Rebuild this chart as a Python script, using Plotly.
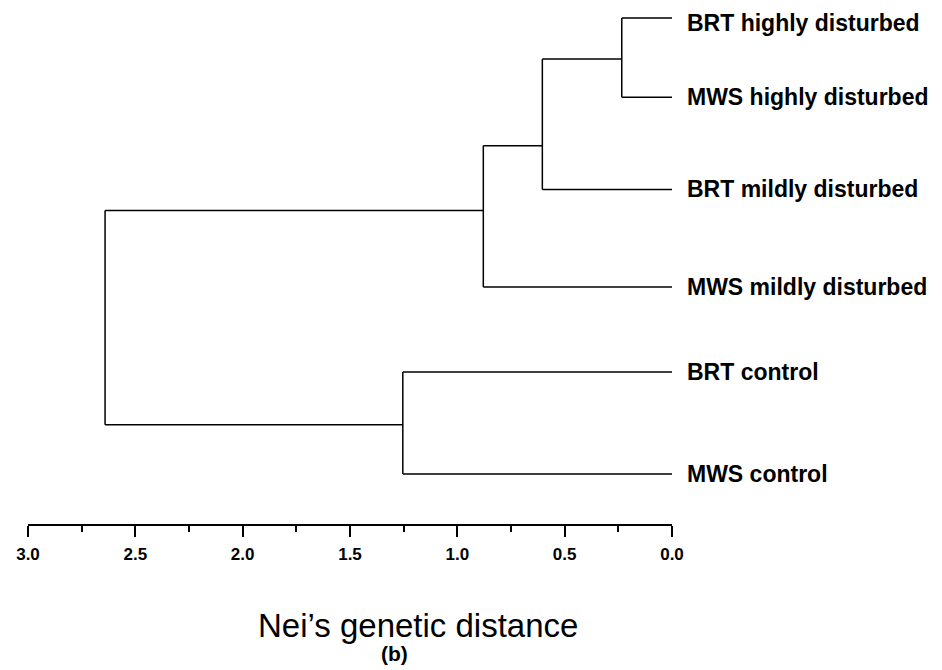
import plotly.graph_objects as go

# ---- data ----
leaves = ["BRT highly disturbed", "MWS highly disturbed", "BRT mildly disturbed",
          "MWS mildly disturbed", "BRT control", "MWS control"]
leaf_pos = [0.0, 0.87, 1.88, 2.95, 3.88, 5.0]          # vertical order position of each leaf
merge_left = [0, 6, 7, 4, 8]                            # ids >= 6 refer to earlier merges
merge_right = [1, 2, 3, 5, 9]
merge_height = [0.234, 0.604, 0.879, 1.254, 2.641]      # Nei's genetic distance of each join
merge_pos = [0.45, 1.40, 2.11, 4.46, 3.3]               # vertical position where each node attaches

tick_vals = [3.0, 2.5, 2.0, 1.5, 1.0, 0.5, 0.0]
x_title = "Nei\u2019s genetic distance"
panel = "(b)"

# ---- build dendrogram segments ----
n = len(leaves)
def node_x(i):
    return 0.0 if i < n else merge_height[i - n]
def node_y(i):
    return leaf_pos[i] if i < n else merge_pos[i - n]

xs, ys = [], []
for a, b, h in zip(merge_left, merge_right, merge_height):
    for c in (a, b):
        xs += [node_x(c), h, None]
        ys += [node_y(c), node_y(c), None]
    xs += [h, h, None]
    ys += [node_y(a), node_y(b), None]

FONT = "Liberation Sans, Arial"
W, H = 934, 662
L, R, T, B = 20, 270, 0, 146
pw, ph = W - L - R, H - T - B

fig = go.Figure()
fig.add_trace(go.Scatter(x=xs, y=ys, mode="lines",
                         line=dict(color="black", width=1.5),
                         hoverinfo="skip", showlegend=False))

for i, (name, p) in enumerate(zip(leaves, leaf_pos)):
    fig.add_annotation(x=0, y=p, xref="x", yref="y", text="<b>%s</b>" % name,
                       showarrow=False, xanchor="left", yanchor="middle", xshift=13,
                       yshift=-5 if i == 0 else 0,
                       font=dict(family=FONT, size=23, color="black"))

fig.add_annotation(x=(410 - L) / pw, y=(H - B - 617) / ph, xref="paper", yref="paper",
                   text=x_title, showarrow=False, xanchor="center", yanchor="middle",
                   font=dict(family=FONT, size=33, color="black"))
fig.add_annotation(x=(386 - L) / pw, y=(H - B - 645) / ph, xref="paper", yref="paper",
                   text="<b>%s</b>" % panel, showarrow=False, xanchor="center", yanchor="middle",
                   font=dict(family=FONT, size=21, color="black"))

fig.update_layout(
    width=W, height=H,
    margin=dict(l=L, r=R, t=T, b=B, autoexpand=False),
    plot_bgcolor="white", paper_bgcolor="white",
    xaxis=dict(range=[3.0, 0.0], showgrid=False, zeroline=False,
               showline=True, linecolor="black", linewidth=1.5,
               ticks="outside", ticklen=11, tickwidth=1.5, tickcolor="black",
               tickvals=tick_vals, tickformat=".1f", ticklabelstandoff=3,
               tickfont=dict(family=FONT, size=17, color="black", weight="bold"),
               minor=dict(ticks="outside", ticklen=6, tickwidth=1.5, tickcolor="black",
                          dtick=0.25, showgrid=False)),
    yaxis=dict(range=[5.548, -0.11], visible=False, showgrid=False, zeroline=False),
)

fig.write_html("out.html")
